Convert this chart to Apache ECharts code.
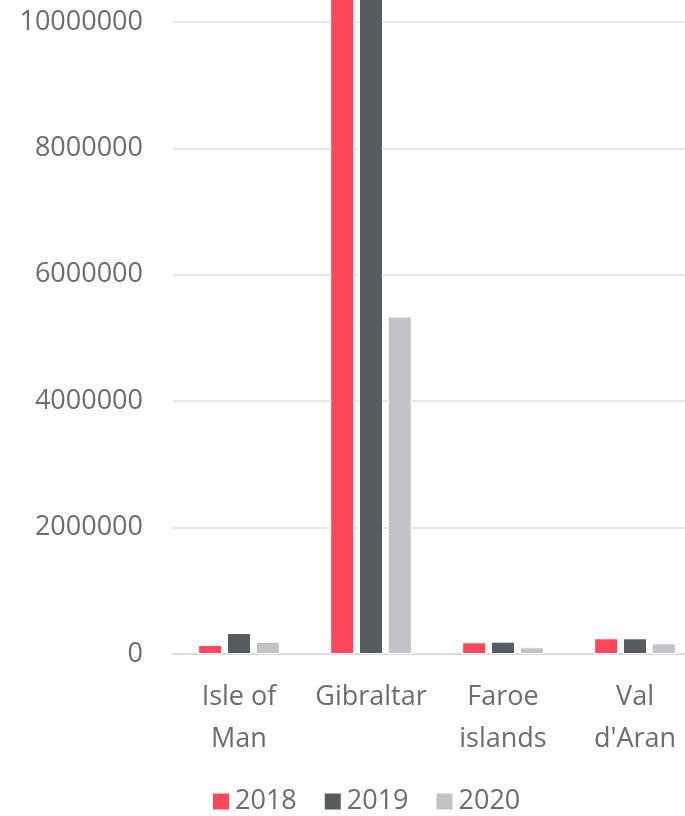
<!DOCTYPE html>
<html>
<head>
<meta charset="utf-8">
<script src="https://cdn.jsdelivr.net/npm/echarts@6/dist/echarts.min.js"></script>
<style>
  html, body { margin: 0; padding: 0; background: #fff; }
  #chart { width: 685px; height: 816px; }
</style>
</head>
<body>
<div id="chart"></div>
<script>
const categories = ['Isle of\nMan', 'Gibraltar', 'Faroe\nislands', "Val\nd'Aran"]
const years = ['2018', '2019', '2020']
const values2018 = [142000, 12500000, 185000, 248000]
const values2019 = [332000, 12500000, 195000, 248000]
const values2020 = [195000, 5340000, 106000, 169000]
const colors = ['#ff4658', '#565d61', '#c3c2c8']

const textColor = '#6b6b73'
const font = 'Open Sans'

function draw() {
    const chart = echarts.init(document.getElementById('chart'))
    chart.setOption(getOptions())
}

function getOptions() {
    const seriesData = [values2018, values2019, values2020]
    return {
        animation: false,
        color: colors,
        grid: {
            left: 173,
            width: 528, // last category runs past the canvas edge
            top: 22,
            height: 632,
            outerBoundsMode: 'none',
        },
        legend: {
            top: 783,
            left: 206,
            itemWidth: 18,
            itemHeight: 18,
            itemGap: 26,
            icon: 'rect',
            textStyle: { color: textColor, fontSize: 27, fontFamily: font },
            data: years,
        },
        xAxis: {
            type: 'category',
            data: categories,
            axisTick: { show: false },
            axisLine: { lineStyle: { color: '#dcdcdc', width: 2 } },
            axisLabel: {
                color: textColor,
                fontSize: 27,
                fontFamily: font,
                lineHeight: 42,
                margin: 22,
                interval: 0,
            },
        },
        yAxis: {
            type: 'value',
            min: 0,
            max: 10000000,
            interval: 2000000,
            axisLabel: {
                color: textColor,
                fontSize: 27,
                fontFamily: font,
                margin: 30,
                formatter: v => String(v),
            },
            splitLine: { lineStyle: { color: '#dcdcdc', width: 1.5 } },
        },
        series: seriesData.map((vals, i) => ({
            name: years[i],
            type: 'bar',
            data: vals,
            barWidth: 24,
            barGap: '20%',
            clip: false,
            itemStyle: { borderColor: '#fff', borderWidth: 1 },
        })),
    }
}

draw()
</script>
</body>
</html>
